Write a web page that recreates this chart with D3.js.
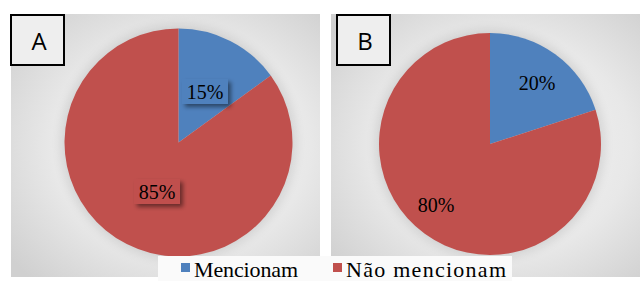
<!DOCTYPE html>
<html>
<head>
<meta charset="utf-8">
<script src="https://cdn.jsdelivr.net/npm/d3@7"></script>
<style>
  html, body { margin: 0; padding: 0; background: #fff; }
  svg { display: block; }
</style>
</head>
<body>
<div id="chart"></div>
<script>
var width = 640;
var height = 281;

var categories = ["Mencionam", "Não mencionam"];
var panelNames = ["A", "B"];
var valuesA = [15, 85];
var valuesB = [20, 80];
var colors = ["#4f81bd", "#c0504d"];

var svg = d3.select("#chart").append("svg")
  .attr("width", width)
  .attr("height", height);

var defs = svg.append("defs");
var grad = defs.append("radialGradient").attr("id", "bg")
  .attr("cx", "55%").attr("cy", "50%").attr("r", "70%");
grad.append("stop").attr("offset", "0%").attr("stop-color", "#f6f6f6");
grad.append("stop").attr("offset", "60%").attr("stop-color", "#e8e8e8");
grad.append("stop").attr("offset", "100%").attr("stop-color", "#d0d0d0");

var shadow = defs.append("filter").attr("id", "shadow")
  .attr("x", "-30%").attr("y", "-30%").attr("width", "170%").attr("height", "170%");
shadow.append("feDropShadow").attr("dx", 3).attr("dy", 3)
  .attr("stdDeviation", 2).attr("flood-color", "#000").attr("flood-opacity", 0.45);

var pieShadow = defs.append("filter").attr("id", "pieShadow")
  .attr("x", "-20%").attr("y", "-20%").attr("width", "140%").attr("height", "140%");
pieShadow.append("feGaussianBlur").attr("stdDeviation", 6);

var panels = [
  { name: panelNames[0], values: valuesA, x0: 11, x1: 320, cx: 178.5, cy: 142.5, r: 114,
    boxX: 11, labels: [[205, 92], [157, 192]], boxed: true },
  { name: panelNames[1], values: valuesB, x0: 331, x1: 640, cx: 490, cy: 144, r: 111,
    boxX: 337, labels: [[537, 83], [436, 205]], boxed: false }
];

var pie = d3.pie().sort(null).value(function(d) { return d; });

panels.forEach(function(p) {
  var g = svg.append("g");
  g.append("rect")
    .attr("x", p.x0).attr("y", 14)
    .attr("width", p.x1 - p.x0).attr("height", 263)
    .attr("fill", "url(#bg)");

  g.append("circle")
    .attr("cx", p.cx).attr("cy", p.cy).attr("r", p.r + 2)
    .attr("fill", "#000").attr("opacity", 0.12)
    .attr("filter", "url(#pieShadow)");

  var arc = d3.arc().innerRadius(0).outerRadius(p.r);
  var arcs = pie(p.values);

  g.selectAll("path.slice")
    .data(arcs)
    .enter().append("path")
    .attr("class", "slice")
    .attr("transform", "translate(" + p.cx + "," + p.cy + ")")
    .attr("d", arc)
    .attr("fill", function(d, i) { return colors[i]; });

  arcs.forEach(function(d, i) {
    var lx = p.labels[i][0], ly = p.labels[i][1];
    if (p.boxed) {
      g.append("rect")
        .attr("x", lx - 23).attr("y", ly - 13)
        .attr("width", 46).attr("height", 25)
        .attr("fill", colors[i])
        .attr("filter", "url(#shadow)");
    }
    g.append("text")
      .attr("x", lx).attr("y", ly + 7)
      .attr("text-anchor", "middle")
      .attr("font-family", "Liberation Serif, Times New Roman, serif")
      .attr("font-size", 20)
      .attr("fill", "#000")
      .text(d.data + "%");
  });

  g.append("rect")
    .attr("x", p.boxX).attr("y", 15)
    .attr("width", 53).attr("height", 50)
    .attr("fill", "#eeeeee")
    .attr("stroke", "#000").attr("stroke-width", 2);
  g.append("text")
    .attr("x", p.boxX + 28).attr("y", 50)
    .attr("text-anchor", "middle")
    .attr("font-family", "Open Sans, Liberation Sans, sans-serif")
    .attr("font-size", 24)
    .attr("fill", "#000")
    .text(p.name);
});

// legend
var legend = svg.append("g");
legend.append("rect")
  .attr("x", 158).attr("y", 256)
  .attr("width", 354).attr("height", 25)
  .attr("fill", "#fafafa");

var legendX = [181, 333];
var legendW = [104, 160];
categories.forEach(function(c, i) {
  legend.append("rect")
    .attr("x", legendX[i]).attr("y", 263)
    .attr("width", 9).attr("height", 9)
    .attr("fill", colors[i]);
  legend.append("text")
    .attr("x", legendX[i] + 13).attr("y", 277)
    .attr("font-family", "Liberation Serif, Times New Roman, serif")
    .attr("font-size", 22)
    .attr("textLength", legendW[i])
    .attr("lengthAdjust", "spacing")
    .attr("fill", "#000")
    .text(c);
});
</script>
</body>
</html>
